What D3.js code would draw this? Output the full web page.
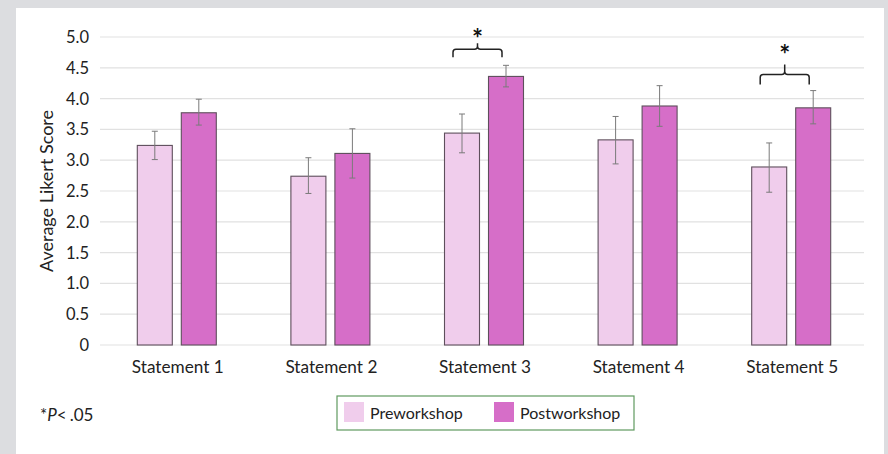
<!DOCTYPE html>
<html>
<head>
<meta charset="utf-8">
<script src="https://cdn.jsdelivr.net/npm/d3@7"></script>
<style>
    body { margin: 0; background: #dcdde0; }
    svg { display: block; font-family: Lato, "Open Sans", sans-serif; }
</style>
</head>
<body>
<svg id="chart" width="888" height="454"></svg>
<script>
const categories = ["Statement 1", "Statement 2", "Statement 3", "Statement 4", "Statement 5"];
const seriesNames = ["Preworkshop", "Postworkshop"];
const preMeans = [3.24, 2.74, 3.44, 3.33, 2.89];
const preLow = [3.01, 2.46, 3.12, 2.94, 2.48];
const preHigh = [3.47, 3.04, 3.75, 3.71, 3.28];
const postMeans = [3.77, 3.11, 4.36, 3.88, 3.85];
const postLow = [3.57, 2.71, 4.19, 3.55, 3.59];
const postHigh = [3.99, 3.51, 4.54, 4.21, 4.13];
const yTicks = [0, 0.5, 1, 1.5, 2, 2.5, 3, 3.5, 4, 4.5, 5];
const significant = ["Statement 3", "Statement 5"];

const colors = ["#f0cdec", "#d66ec8"];

var svg = d3.select("#chart");

// white panel
svg.append("rect")
    .attr("x", 16).attr("y", 8)
    .attr("width", 868).attr("height", 446)
    .attr("fill", "#fff");

var margin = { left: 100, right: 20, top: 37, bottom: 109 },
    width = 868 - margin.left,
    height = 345 - margin.top;

var g = svg.append("g").attr("transform", "translate(" + margin.left + "," + margin.top + ")");

var x = d3.scaleBand().domain(categories).range([0, width]).paddingInner(0).paddingOuter(0);
var y = d3.scaleLinear().domain([0, 5]).range([height, 0]);

var barW = 35, gap = 9;

// gridlines
g.selectAll(".grid")
    .data(yTicks)
    .enter()
    .append("line")
    .attr("x1", 0).attr("x2", width - 4)
    .attr("y1", d => y(d)).attr("y2", d => y(d))
    .attr("stroke", "#e1e1e1")
    .attr("stroke-width", 1.2);

// y labels
g.selectAll(".ytick")
    .data(yTicks)
    .enter()
    .append("text")
    .attr("x", -11)
    .attr("y", d => y(d))
    .attr("dy", "0.36em")
    .attr("text-anchor", "end")
    .attr("font-size", 16.5)
    .attr("fill", "#222")
    .text(d => d === 0 ? "0" : d.toFixed(1));

svg.append("text")
    .attr("transform", "translate(53," + (margin.top + height / 2) + ") rotate(-90)")
    .attr("text-anchor", "middle")
    .attr("font-size", 18)
    .attr("fill", "#222")
    .text("Average Likert Score");

var series = [
    { name: seriesNames[0], means: preMeans, low: preLow, high: preHigh, color: colors[0], off: -gap / 2 - barW },
    { name: seriesNames[1], means: postMeans, low: postLow, high: postHigh, color: colors[1], off: gap / 2 }
];

var cx = function(c) { return x(c) + x.bandwidth() / 2; };

series.forEach(function(s) {
    var data = categories.map((c, i) => ({ c: c, v: s.means[i], lo: s.low[i], hi: s.high[i] }));

    g.selectAll(null)
        .data(data)
        .enter()
        .append("rect")
        .attr("x", d => cx(d.c) + s.off)
        .attr("y", d => y(d.v))
        .attr("width", barW)
        .attr("height", d => height - y(d.v))
        .attr("fill", s.color)
        .attr("stroke", "#5e4f5c")
        .attr("stroke-width", 1.1);

    // error bars
    var eb = g.selectAll(null)
        .data(data)
        .enter()
        .append("g")
        .attr("stroke", "#7a7a7a")
        .attr("stroke-width", 1);
    eb.append("line")
        .attr("x1", d => cx(d.c) + s.off + barW / 2).attr("x2", d => cx(d.c) + s.off + barW / 2)
        .attr("y1", d => y(d.hi)).attr("y2", d => y(d.lo));
    eb.append("line")
        .attr("x1", d => cx(d.c) + s.off + barW / 2 - 3).attr("x2", d => cx(d.c) + s.off + barW / 2 + 3)
        .attr("y1", d => y(d.hi)).attr("y2", d => y(d.hi));
    eb.append("line")
        .attr("x1", d => cx(d.c) + s.off + barW / 2 - 3).attr("x2", d => cx(d.c) + s.off + barW / 2 + 3)
        .attr("y1", d => y(d.lo)).attr("y2", d => y(d.lo));
});

// category labels
g.selectAll(".xlab")
    .data(categories)
    .enter()
    .append("text")
    .attr("x", d => cx(d) + 1)
    .attr("y", height + 28)
    .attr("text-anchor", "middle")
    .attr("font-size", 17.2)
    .attr("fill", "#222")
    .text(d => d);

// significance brackets (the second one sits a bit taller in the original)
significant.forEach(function(c, k) {
    var i = categories.indexOf(c);
    var top = Math.max(postHigh[i], preHigh[i]);
    var by = y(top) - 16;
    var hook = k === 0 ? 8 : 10,
        stem = k === 0 ? 6 : 10,
        lift = k === 0 ? 0 : 10;
    var x0 = cx(c) - 31, x1 = cx(c) + 18, xm = (x0 + x1) / 2;
    var r = 3;
    var path = "M" + x0 + "," + (by + hook) +
        " L" + x0 + "," + (by + r) +
        " Q" + x0 + "," + by + " " + (x0 + r) + "," + by +
        " L" + (xm - r) + "," + by +
        " Q" + xm + "," + by + " " + xm + "," + (by - r) +
        " L" + xm + "," + (by - stem) +
        " M" + xm + "," + (by - r) +
        " Q" + xm + "," + by + " " + (xm + r) + "," + by +
        " L" + (x1 - r) + "," + by +
        " Q" + x1 + "," + by + " " + x1 + "," + (by + r) +
        " L" + x1 + "," + (by + hook);
    g.append("path")
        .attr("d", path)
        .attr("fill", "none")
        .attr("stroke", "#222")
        .attr("stroke-width", 1.5);
    g.append("text")
        .attr("x", xm)
        .attr("y", by - 1 - lift)
        .attr("text-anchor", "middle")
        .attr("font-size", 26)
        .attr("font-weight", "bold")
        .attr("fill", "#111")
        .text("*");
});

// footnote
var note = svg.append("text")
    .attr("x", 40).attr("y", 421)
    .attr("font-size", 17)
    .attr("fill", "#222");
note.append("tspan").text("*");
note.append("tspan").attr("font-style", "italic").text("P");
note.append("tspan").text("<");
note.append("tspan").attr("dx", 3).text(".05");

// legend
var legend = svg.append("g").attr("transform", "translate(337,396)");
legend.append("rect")
    .attr("width", 297).attr("height", 34)
    .attr("fill", "#fff")
    .attr("stroke", "#5f9a5f")
    .attr("stroke-width", 1.2);
var legX = [7, 157];
seriesNames.forEach(function(n, i) {
    legend.append("rect")
        .attr("x", legX[i]).attr("y", 6)
        .attr("width", 20).attr("height", 20)
        .attr("fill", colors[i]);
    legend.append("text")
        .attr("x", legX[i] + 26).attr("y", 17)
        .attr("dy", "0.36em")
        .attr("font-size", 16)
        .attr("fill", "#222")
        .text(n);
});
</script>
</body>
</html>
